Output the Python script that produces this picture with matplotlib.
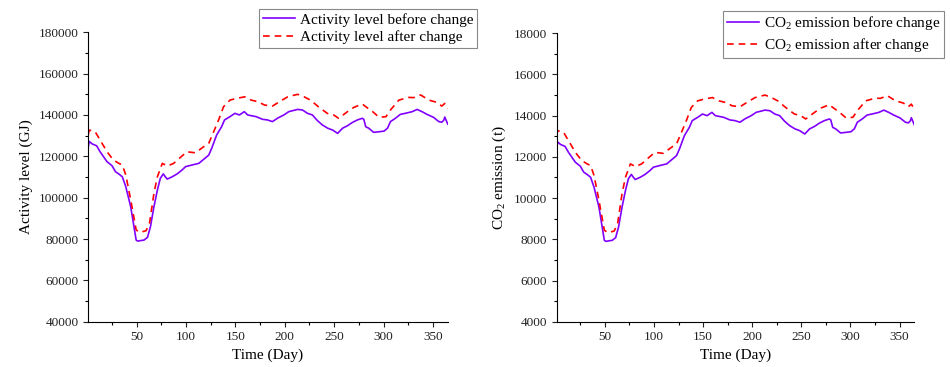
import numpy as np
import matplotlib.pyplot as plt
from matplotlib.ticker import MultipleLocator

plt.rcParams['font.family'] = ['Liberation Serif', 'DejaVu Serif']
plt.rcParams['mathtext.fontset'] = 'custom'
plt.rcParams['mathtext.rm'] = 'Liberation Serif'

# days sampled along the curves
days_before = [1, 2, 5, 9.5, 13, 20, 25, 28.5, 32, 35.5, 39, 44, 49.5, 51, 57.5, 61,
               64, 67.5, 71, 74, 77, 79, 81, 86, 91, 96, 99.5, 106, 113, 118, 123,
               126, 131, 136, 139, 144.5, 149.5, 154, 159, 162.5, 171, 177.5, 182.5,
               187.5, 192.5, 199, 204, 213, 218, 223, 228, 233, 238, 243.5, 248.5,
               253.5, 258.5, 263.5, 268.5, 273.5, 278.5, 280, 282, 285, 290, 295.5,
               300.5, 304, 307, 312, 317, 322, 329, 334, 339, 344, 350.5, 356, 359,
               361, 362, 365]
act_before = [124500, 127200, 126000, 125100, 122200, 117400, 115500, 112600, 111450,
              110100, 105300, 95600, 79500, 79000, 79500, 80800, 86000, 95600, 103700,
              109400, 111500, 110100, 109000, 110100, 111500, 113400, 115000, 115800,
              116600, 118600, 120600, 123900, 130300, 134300, 137600, 139200, 140800,
              140000, 141600, 140000, 139200, 137900, 137600, 136800, 138400, 140000,
              141600, 142700, 142400, 140800, 140000, 137300, 135200, 133600, 132700,
              131100, 133600, 134800, 136400, 137600, 138400, 137900, 134300, 133600,
              131600, 131900, 132200, 133600, 136800, 138400, 140300, 140800, 141600,
              142700, 141600, 140300, 138900, 136800, 136500, 137500, 139000, 135600]

days_after = [1, 2, 8, 13, 20, 26.5, 32, 35.5, 39, 44, 49.5, 53, 59.5, 63, 67.5, 71, 76,
              81, 87.5, 96, 101, 109.5, 118, 123, 128, 133, 138, 144.5, 151, 159.5,
              166, 173, 179.5, 187.5, 194.5, 203, 213, 219.5, 226, 234, 243, 249.5,
              254.5, 263.5, 270, 278.5, 282, 289, 295.5, 302.5, 307, 315.5, 325.5,
              330.5, 337.5, 346, 354, 359, 362, 365]
act_after = [130500, 132700, 131900, 127900, 122200, 118200, 116600, 115800, 111000,
             98900, 84400, 83200, 84000, 87600, 102100, 110100, 116600, 115300, 116600,
             120200, 122200, 121700, 124700, 126300, 131900, 137600, 144000, 147200,
             148000, 148800, 147200, 146400, 144800, 144300, 146400, 148800, 150000,
             148800, 147200, 144000, 140800, 140000, 138400, 141600, 143700, 145300,
             144000, 141600, 138900, 139200, 142400, 147200, 148500, 148400, 149700,
             147200, 146100, 144300, 145600, 143200]

co2_before = [12450, 12720, 12600, 12510, 12220, 11740, 11550, 11260, 11145, 11010,
              10530, 9560, 7950, 7900, 7950, 8080, 8600, 9560, 10370, 10940, 11150,
              11010, 10900, 11010, 11150, 11340, 11500, 11580, 11660, 11860, 12060,
              12390, 13030, 13430, 13760, 13920, 14080, 14000, 14160, 14000, 13920,
              13790, 13760, 13680, 13840, 14000, 14160, 14270, 14240, 14080, 14000,
              13730, 13520, 13360, 13270, 13110, 13360, 13480, 13640, 13760, 13840,
              13790, 13430, 13360, 13160, 13190, 13220, 13360, 13680, 13840, 14030,
              14080, 14160, 14270, 14160, 14030, 13890, 13680, 13650, 13750, 13900,
              13560]
co2_after = [13050, 13270, 13190, 12790, 12220, 11820, 11660, 11580, 11100, 9890, 8440,
             8320, 8400, 8760, 10210, 11010, 11660, 11530, 11660, 12020, 12220, 12170,
             12470, 12630, 13190, 13760, 14400, 14720, 14800, 14880, 14720, 14640,
             14480, 14430, 14640, 14880, 15000, 14880, 14720, 14400, 14080, 14000,
             13840, 14160, 14370, 14530, 14400, 14160, 13890, 13920, 14240, 14720,
             14850, 14840, 14970, 14720, 14610, 14430, 14560, 14320]

fig = plt.figure(figsize=(9.5, 3.67), dpi=100)
ax1 = fig.add_axes([0.0929, 0.1234, 0.3784, 0.7886])
ax2 = fig.add_axes([0.586, 0.1234, 0.3764, 0.786])

panels = [
    (ax1, act_before, act_after, 'Activity level (GJ)', (40000, 180000), 20000,
     'Activity level before change', 'Activity level after change', (0.502, 0.975)),
    (ax2, co2_before, co2_after, r'CO$_\mathregular{2}$ emission (t)', (4000, 18000), 2000,
     r'CO$_\mathregular{2}$ emission before change', r'CO$_\mathregular{2}$ emission after change',
     (0.9937, 0.971)),
]

for ax, yb, ya, ylab, ylim, step, lb, la, anchor in panels:
    ax.plot(days_before, yb, color='#8000ff', lw=1.2, label=lb)
    ax.plot(days_after, ya, color='#ff0000', lw=1.2, ls=(0, (4, 3)), label=la)
    ax.set_xlim(1, 365)
    ax.set_ylim(*ylim)
    ax.xaxis.set_major_locator(MultipleLocator(50))
    ax.xaxis.set_minor_locator(MultipleLocator(25))
    ax.yaxis.set_major_locator(MultipleLocator(step))
    ax.yaxis.set_minor_locator(MultipleLocator(step / 2))
    ax.spines['top'].set_visible(False)
    ax.spines['right'].set_visible(False)
    ax.tick_params(which='major', length=3.5, width=0.8, labelsize=9.5, colors='#222222')
    ax.tick_params(which='minor', length=2, width=0.8)
    ax.set_xlabel('Time (Day)', fontsize=11, labelpad=4)
    ax.set_ylabel(ylab, fontsize=11, labelpad=4)
    leg = ax.legend(loc='upper right', bbox_to_anchor=anchor, bbox_transform=fig.transFigure,
                    fontsize=11, fancybox=False, framealpha=1, edgecolor='#888888',
                    handlelength=2.1, handletextpad=0.3, borderpad=0.25, labelspacing=0.25,
                    borderaxespad=0)
    leg.get_frame().set_linewidth(0.8)

fig.savefig('out.png', dpi=100)
